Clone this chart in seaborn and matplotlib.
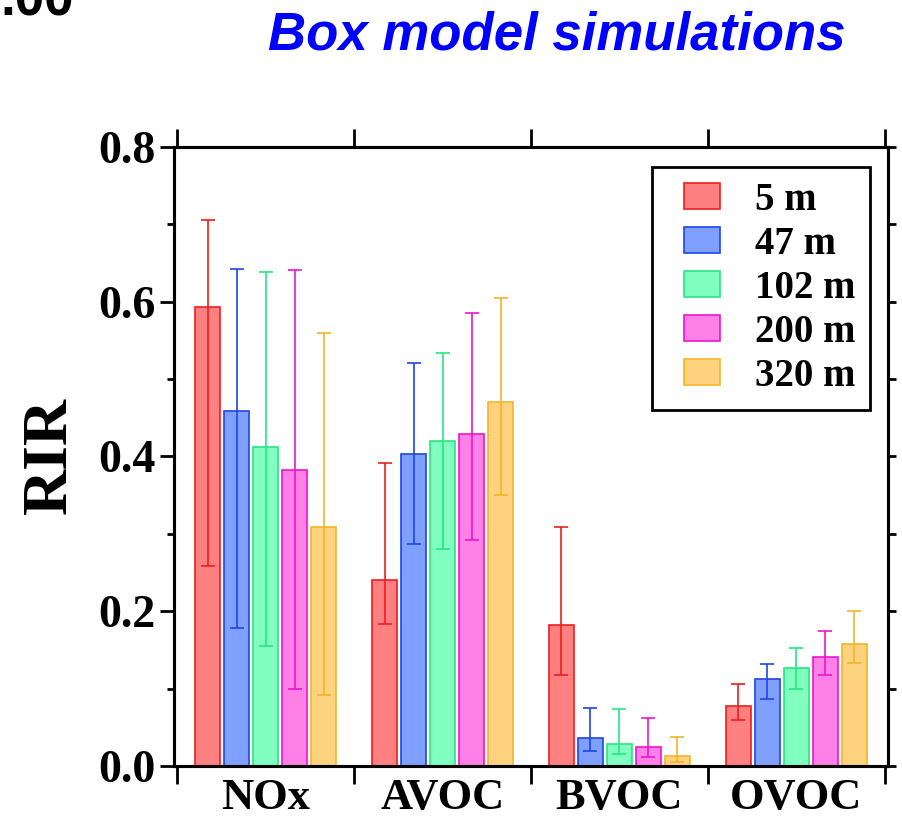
import numpy as np
import pandas as pd
import matplotlib
matplotlib.use("Agg")
import matplotlib.pyplot as plt
from matplotlib.patches import Patch, Rectangle
from matplotlib.legend_handler import HandlerPatch
from matplotlib.ticker import MultipleLocator, FixedLocator
import seaborn as sns

# Precursor groups and sampling heights
species = ["NOx", "AVOC", "BVOC", "OVOC"]
heights = ["5 m", "47 m", "102 m", "200 m", "320 m"]

# Mean RIR per height (rows) and precursor group (columns)
rir_mean = [
    [0.593, 0.240, 0.182, 0.077],
    [0.459, 0.403, 0.036, 0.113],
    [0.412, 0.420, 0.029, 0.126],
    [0.382, 0.429, 0.024, 0.141],
    [0.309, 0.470, 0.013, 0.158],
]
# Upper and lower ends of the error bars
rir_upper = [
    [0.705, 0.392, 0.309, 0.106],
    [0.642, 0.521, 0.075, 0.132],
    [0.638, 0.534, 0.074, 0.152],
    [0.641, 0.586, 0.062, 0.174],
    [0.560, 0.605, 0.037, 0.200],
]
rir_lower = [
    [0.258, 0.184, 0.118, 0.060],
    [0.178, 0.287, 0.019, 0.087],
    [0.155, 0.281, 0.015, 0.100],
    [0.099, 0.292, 0.011, 0.117],
    [0.092, 0.350, 0.005, 0.133],
]

face_colors = ["#ff8080", "#80a0ff", "#80ffc0", "#ff80e6", "#ffd280"]
edge_colors = ["#f01e1e", "#1e46e6", "#28e682", "#f014c8", "#f5b428"]

records = []
for h, row in zip(heights, rir_mean):
    for s, v in zip(species, row):
        records.append({"species": s, "height": h, "RIR": v})
df = pd.DataFrame(records)

sns.set_theme(style="white")
plt.rcParams["font.family"] = ["Liberation Serif", "DejaVu Serif"]
plt.rcParams["font.weight"] = "bold"
plt.rcParams["axes.linewidth"] = 2.2
for key in ["text.color", "axes.labelcolor", "xtick.color", "ytick.color",
            "xtick.labelcolor", "ytick.labelcolor", "axes.edgecolor"]:
    plt.rcParams[key] = "black"

fig = plt.figure(figsize=(9.02, 8.23), dpi=100)
ax = fig.add_axes([0.1929, 0.0693, 0.7916, 0.7521])

sns.barplot(
    data=df, x="species", y="RIR", hue="height",
    order=species, hue_order=heights, palette=face_colors,
    saturation=1, width=0.82, gap=0.155, errorbar=None,
    legend=False, linewidth=1.2, ax=ax,
)

# Edge colours and asymmetric error bars per height
bar_groups = list(ax.containers)
for i, cont in enumerate(bar_groups):
    xs = []
    for bar in cont:
        bar.set_edgecolor(edge_colors[i])
        bar.set_linewidth(1.2)
        xs.append(bar.get_x() + bar.get_width() / 2)
    m = np.array(rir_mean[i])
    hi = np.array(rir_upper[i])
    lo = np.array(rir_lower[i])
    ax.errorbar(xs, m, yerr=[m - lo, hi - m], fmt="none",
                ecolor=edge_colors[i], elinewidth=1.2, capsize=5,
                capthick=1.2, zorder=3)

ax.set_xlim(-0.518, 3.518)
ax.set_ylim(0, 0.8)
ax.set_xlabel("")
ax.set_ylabel("")

for sp in ax.spines.values():
    sp.set_visible(True)
    sp.set_color("black")
    sp.set_linewidth(2.2)

ax.set_yticks([0.0, 0.2, 0.4, 0.6, 0.8])
ax.set_yticklabels(["0.0", "0.2", "0.4", "0.6", "0.8"])
ax.yaxis.set_minor_locator(MultipleLocator(0.1))
ax.tick_params(axis="y", which="major", direction="out", length=10,
               width=2, pad=3, labelsize=33, color="black",
               labelcolor="black", left=True, right=False)
ax.tick_params(axis="y", which="minor", direction="out", length=5,
               width=2, color="black", left=True, right=False)

ax.set_xticks(range(len(species)))
ax.set_xticklabels(species)
ax.xaxis.set_minor_locator(FixedLocator(np.arange(-0.5, 3.6, 1.0)))
ax.tick_params(axis="x", which="major", length=0, pad=9, labelsize=32,
               labelcolor="black")
ax.tick_params(axis="x", which="minor", direction="out", length=13,
               width=2, color="black", top=True, bottom=True)

# Right-hand axis with ticks every 0.1
twin = ax.twinx()
twin.set_ylim(0, 0.8)
twin.set_yticks(np.round(np.arange(0, 0.81, 0.1), 2))
twin.set_yticklabels([])
twin.tick_params(axis="y", direction="out", length=6, width=2, color="black")
for sp in twin.spines.values():
    sp.set_linewidth(2.2)
    sp.set_color("black")
twin.grid(False)

fig.text(51 / 902, 1 - 456 / 823, "RIR", rotation=90, ha="center",
         va="center", fontsize=46, fontweight="bold", color="black",
         family=["Liberation Serif", "DejaVu Serif"])


def narrow_patch(legend, orig_handle, xdescent, ydescent, width, height, fontsize):
    w = 0.93 * fontsize
    return Rectangle((-xdescent + width - w, -ydescent), w, height)


handles = [Patch(facecolor=f, edgecolor=e, linewidth=1.2, label=l)
           for f, e, l in zip(face_colors, edge_colors, heights)]
leg = ax.legend(
    handles=handles, loc="upper right", bbox_to_anchor=(0.9748, 0.9677),
    borderaxespad=0, prop={"family": "Liberation Serif", "weight": "bold", "size": 28},
    frameon=True, fancybox=False, edgecolor="black", framealpha=1,
    handlelength=1.36, handleheight=0.64, handletextpad=0.9,
    labelspacing=0.18, borderpad=0.38,
    handler_map={Patch: HandlerPatch(patch_func=narrow_patch)},
)
leg.get_frame().set_linewidth(2)
leg.set_zorder(10)
for t in leg.get_texts():
    t.set_color("black")

fig.text(557 / 902, 1 - 49 / 823, "Box model simulations", ha="center",
         va="baseline", fontsize=38, fontweight="bold", fontstyle="italic",
         color="#0000ff", family=["Liberation Sans", "DejaVu Sans"])
fig.text(0.0, 1 - 15 / 823, ".00", ha="left", va="baseline", fontsize=38,
         fontweight="bold", color="black", family=["Liberation Sans", "DejaVu Sans"])

fig.savefig("out.png", dpi=100)
